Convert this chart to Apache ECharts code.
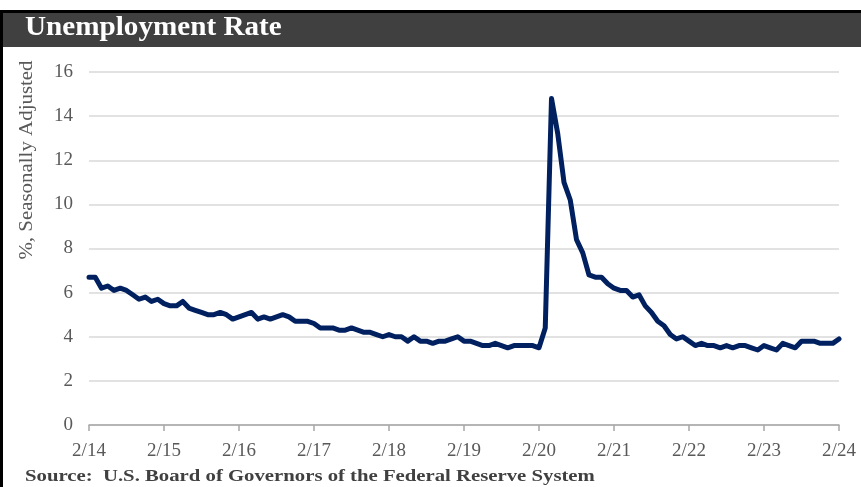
<!DOCTYPE html>
<html>
<head>
<meta charset="utf-8">
<title>Unemployment Rate</title>
<script src="https://cdn.jsdelivr.net/npm/echarts@6/dist/echarts.min.js"></script>
<style>
  html, body { margin: 0; padding: 0; background: #fff; }
  #main { width: 861px; height: 487px; }
</style>
</head>
<body>
<div id="main"></div>
<script>
// monthly, 2/14 .. 2/24
var years = ['14', '15', '16', '17', '18', '19', '20', '21', '22', '23', '24'];
var rate2014 = [6.7, 6.7, 6.2, 6.3, 6.1, 6.2, 6.1, 5.9, 5.7, 5.8, 5.6]; // feb-dec
var rate2015 = [5.7, 5.5, 5.4, 5.4, 5.6, 5.3, 5.2, 5.1, 5.0, 5.0, 5.1, 5.0];
var rate2016 = [4.8, 4.9, 5.0, 5.1, 4.8, 4.9, 4.8, 4.9, 5.0, 4.9, 4.7, 4.7];
var rate2017 = [4.7, 4.6, 4.4, 4.4, 4.4, 4.3, 4.3, 4.4, 4.3, 4.2, 4.2, 4.1];
var rate2018 = [4.0, 4.1, 4.0, 4.0, 3.8, 4.0, 3.8, 3.8, 3.7, 3.8, 3.8, 3.9];
var rate2019 = [4.0, 3.8, 3.8, 3.7, 3.6, 3.6, 3.7, 3.6, 3.5, 3.6, 3.6, 3.6];
var rate2020 = [3.6, 3.5, 4.4, 14.8, 13.2, 11.0, 10.2, 8.4, 7.8, 6.8, 6.7, 6.7];
var rate2021 = [6.4, 6.2, 6.1, 6.1, 5.8, 5.9, 5.4, 5.1, 4.7, 4.5, 4.1, 3.9];
var rate2022 = [4.0, 3.8, 3.6, 3.7, 3.6, 3.6, 3.5, 3.6, 3.5, 3.6, 3.6, 3.5];
var rate2023 = [3.4, 3.6, 3.5, 3.4, 3.7, 3.6, 3.5, 3.8, 3.8, 3.8, 3.7, 3.7];
var rate2024 = [3.7, 3.9]; // jan-feb

var rates = [].concat(rate2014, rate2015, rate2016, rate2017, rate2018, rate2019,
                      rate2020, rate2021, rate2022, rate2023, rate2024);

// month labels m/yy starting at 2/14
var months = [];
for (var i = 0; i < rates.length; i++) {
  var m = (i + 1) % 12 + 1;
  var y = years[Math.floor((i + 1) / 12)];
  months.push(m + '/' + y);
}

var serif = '"Liberation Serif", "DejaVu Serif", serif';
var isYearTick = function (idx) { return idx % 12 === 0; };

var chart = echarts.init(document.getElementById('main'));
chart.setOption({
  animation: false,
  grid: { left: 89, right: 22, top: 72, bottom: 62 },
  xAxis: {
    type: 'category',
    data: months,
    boundaryGap: false,
    axisLine: { lineStyle: { color: '#a6a6a6', width: 1.5 } },
    axisTick: { interval: isYearTick, length: 6, lineStyle: { color: '#a6a6a6', width: 1.5 } },
    axisLabel: {
      interval: isYearTick,
      color: '#595959',
      fontFamily: serif,
      fontSize: 19,
      margin: 17
    },
    splitLine: { show: false }
  },
  yAxis: {
    type: 'value',
    min: 0,
    max: 16,
    interval: 2,
    axisLine: { show: false },
    axisTick: { show: false },
    axisLabel: { color: '#595959', fontFamily: serif, fontSize: 19, margin: 16 },
    splitLine: { lineStyle: { color: '#d9d9d9', width: 1.5 } }
  },
  series: [{
    type: 'line',
    data: rates,
    showSymbol: false,
    lineStyle: { color: '#002060', width: 5, join: 'round', cap: 'round' },
    z: 5
  }],
  graphic: [
    { type: 'rect', shape: { x: 0, y: 10, width: 861, height: 3 }, style: { fill: '#000' } },
    { type: 'rect', shape: { x: 0, y: 13, width: 861, height: 34 }, style: { fill: '#404040' } },
    { type: 'rect', shape: { x: 0, y: 10, width: 3, height: 477 }, style: { fill: '#000' } },
    {
      type: 'text', x: 25, y: 15, scaleX: 1.08,
      style: { text: 'Unemployment Rate', fill: '#fff', font: 'bold 27px ' + serif }
    },
    {
      type: 'text', x: 27, y: 160, rotation: Math.PI / 2, scaleX: 1.1,
      style: {
        text: '%, Seasonally Adjusted', fill: '#595959', font: '19px ' + serif,
        align: 'center', verticalAlign: 'middle'
      }
    },
    {
      type: 'text', x: 25, y: 468, scaleX: 1.22,
      style: {
        text: 'Source:  U.S. Board of Governors of the Federal Reserve System',
        fill: '#404040', font: 'bold 17px ' + serif
      }
    }
  ]
});
</script>
</body>
</html>
